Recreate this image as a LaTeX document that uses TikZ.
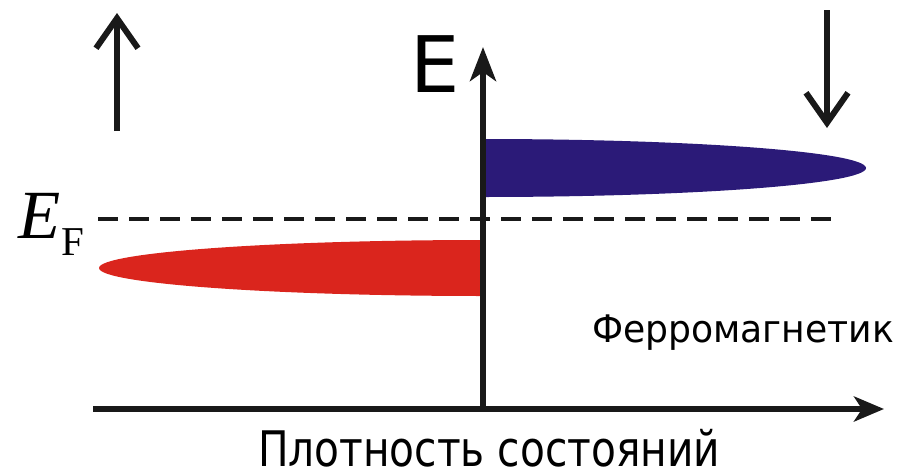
\documentclass[tikz,border=0pt]{standalone}
\usepackage{fontspec}
\usepackage{graphicx}
\setmainfont{Liberation Serif}
\newfontfamily\dvsans{DejaVu Sans}
\usetikzlibrary{arrows.meta}
\definecolor{bandred}{RGB}{218,37,29}
\definecolor{bandblue}{RGB}{43,26,120}
\begin{document}
\begin{tikzpicture}[x=1pt,y=-1pt,
  axisline/.style={line width=6pt,black!90},
  vaxis/.style={axisline,-{Stealth[length=34pt,width=26pt,inset=9pt]}},
  haxis/.style={axisline,-{Stealth[length=30pt,width=25pt,inset=8pt]}},
  spinarrow/.style={line width=6pt,black!90,-{Straight Barb[length=30pt,width=42pt]}},
  efline/.style={line width=3.5pt,black!90,dash pattern=on 20pt off 11pt},
  lbl/.style={inner sep=0pt,outer sep=0pt,anchor=base}]
\useasboundingbox (0,0) rectangle (921,472);
% coordinates
\coordinate (O) at (483,409);
\coordinate (Etop) at (483,47);
\coordinate (Xstart) at (93,409);
\coordinate (Xend) at (884,409);
\coordinate (EFl) at (98,219);
\coordinate (EFr) at (842,219);
\coordinate (UpA) at (117,131);
\coordinate (UpB) at (117,13);
\coordinate (DnA) at (827,10);
\coordinate (DnB) at (827,128);
% bands
\fill[bandred] (484,240) arc[start angle=90,end angle=270,x radius=385pt,y radius=28pt] -- cycle;
\fill[bandblue] (482,139) arc[start angle=90,end angle=-90,x radius=384pt,y radius=29pt] -- cycle;
% Fermi level
\draw[efline] (EFl) -- (EFr);
% axes
\draw[vaxis] (O) -- (Etop);
\draw[haxis] (Xstart) -- (Xend);
% spin arrows
\draw[spinarrow] (UpA) -- (UpB);
\draw[spinarrow] (DnA) -- (DnB);
% labels
\node[lbl] (E) at (435,92) {\dvsans\fontsize{78}{78}\selectfont E};
\node[lbl,anchor=base west] (EF) at (19,238) {\fontsize{69}{69}\selectfont\itshape E\upshape\raisebox{-17pt}{\fontsize{41}{41}\selectfont F}};
\node[lbl] (ferro) at (743,342) {\resizebox{302pt}{\height}{\dvsans\fontsize{38}{38}\selectfont Ферромагнетик}};
\node[lbl,text depth=0pt] (dos) at (489,466) {\resizebox{462pt}{\height}{\dvsans\fontsize{49}{49}\selectfont Плотность состояний}};
\end{tikzpicture}
\end{document}
